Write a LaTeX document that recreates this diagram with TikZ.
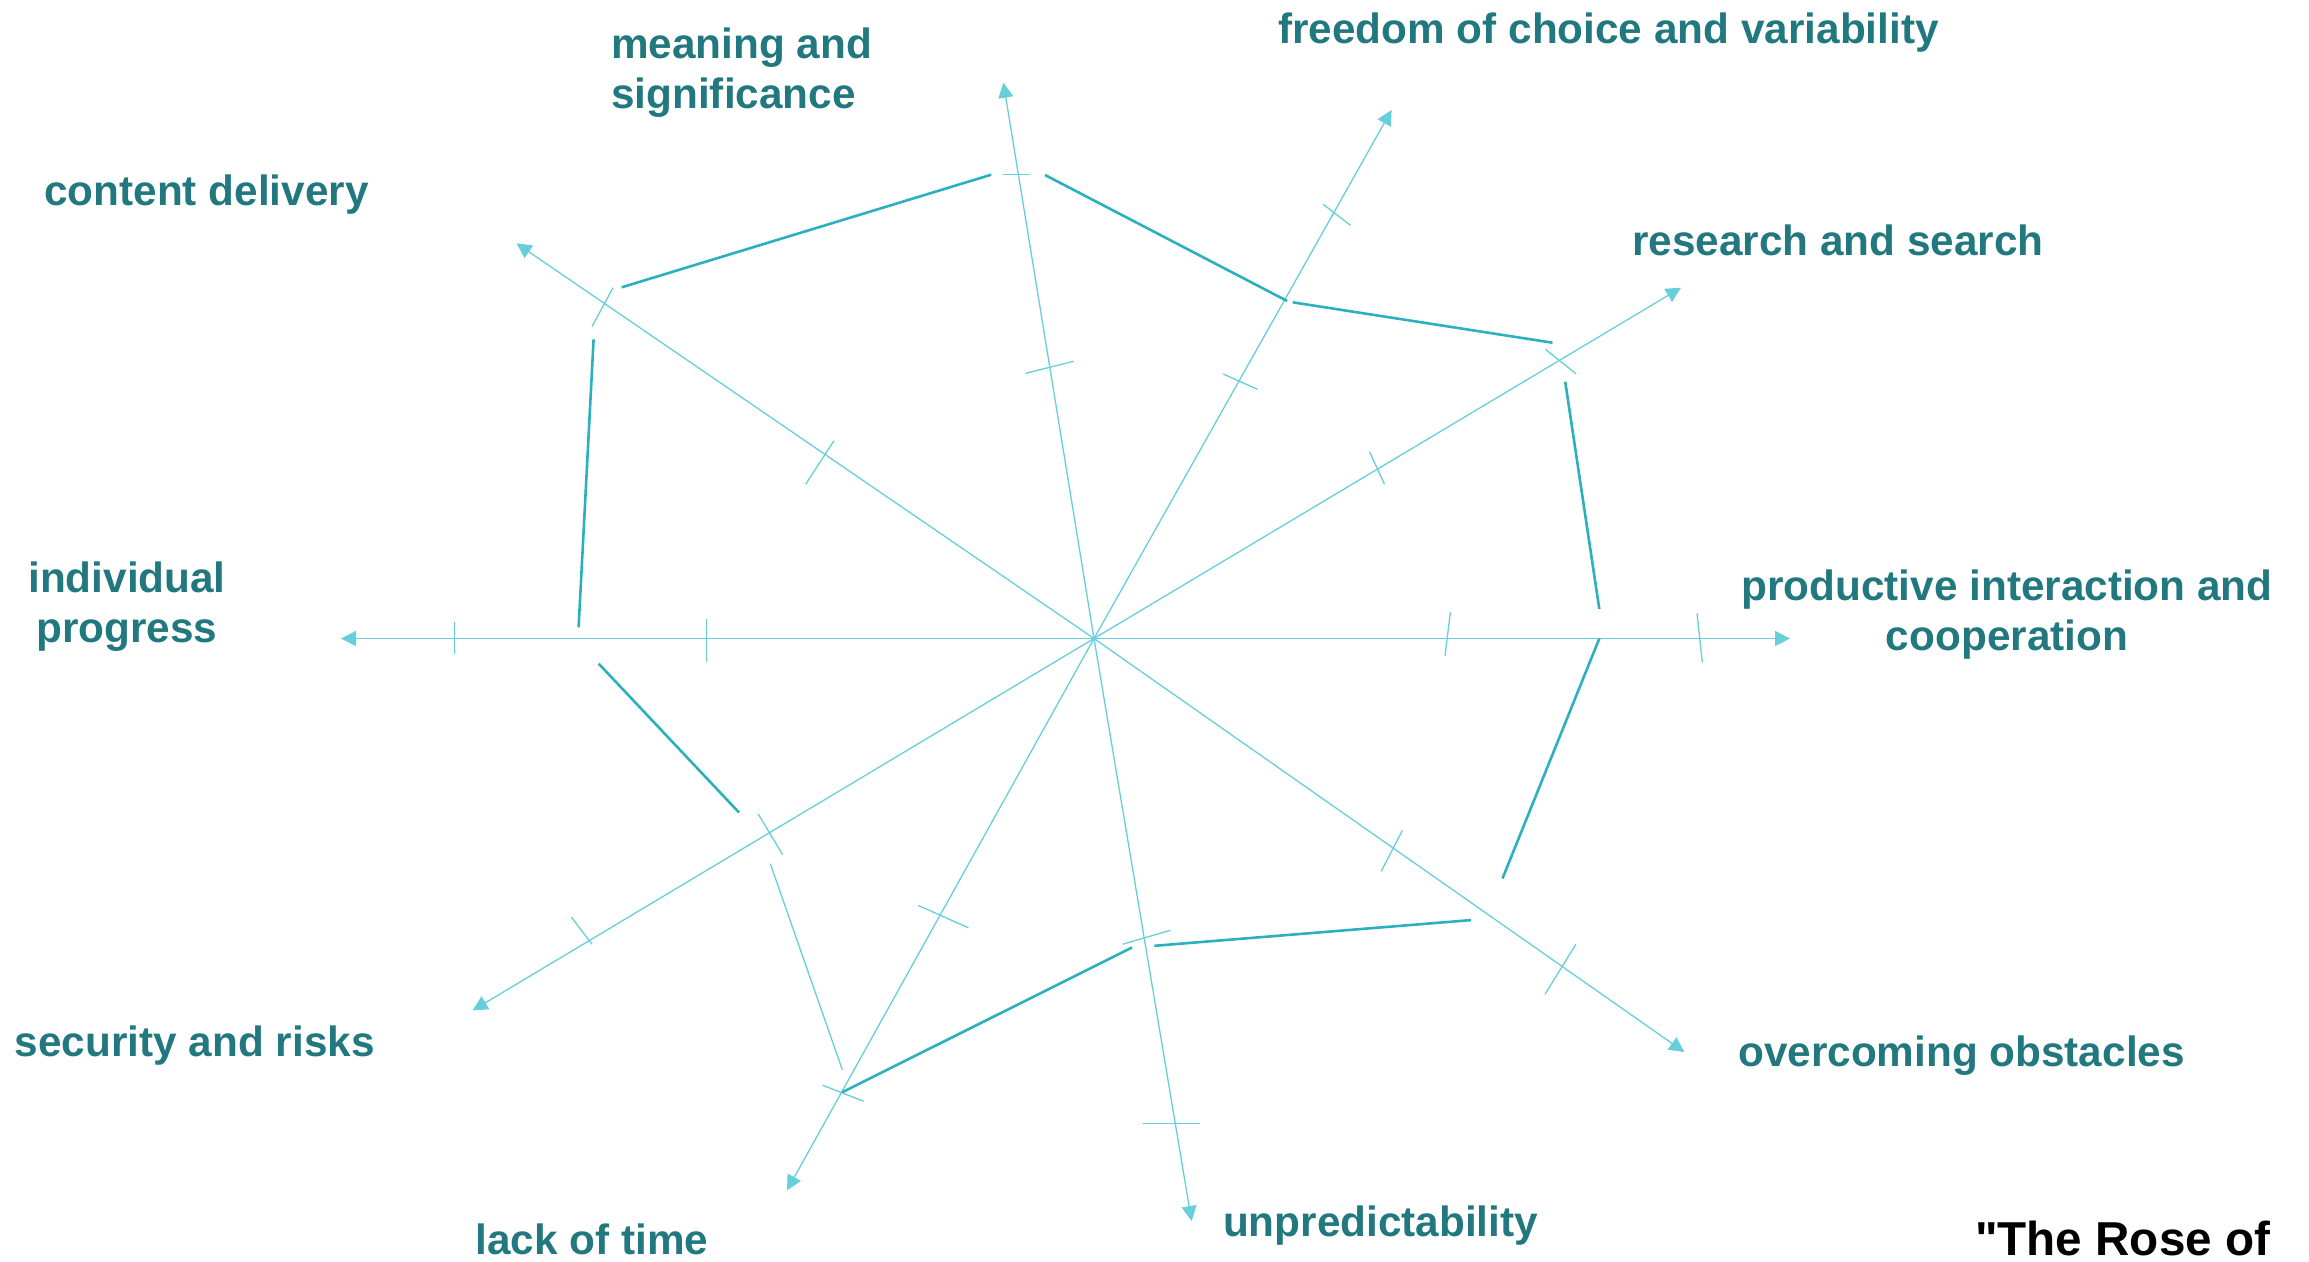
\documentclass[tikz,border=0pt]{standalone}
\usepackage{fontspec}
\setmainfont{Liberation Sans}
\newfontfamily\titlefont{Liberation Sans}[Ligatures=TeXOff]
\usetikzlibrary{arrows.meta}
\definecolor{axiscol}{HTML}{66CFD9}
\definecolor{polycol}{HTML}{2BB0BE}
\definecolor{labelcol}{HTML}{21787E}
\begin{document}
\begin{tikzpicture}[x=1pt,y=-1pt,
  axisline/.style={draw=axiscol,line width=1.3pt,-{Triangle[length=15pt,width=15pt]}},
  tickline/.style={draw=axiscol,line width=1.3pt},
  polyline/.style={draw=polycol,line width=2.6pt},
  lightpoly/.style={draw=axiscol,line width=1.3pt},
  lbl/.style={text=labelcol,font=\fontsize{42.3}{50}\selectfont\bfseries,inner sep=0pt},
]
\useasboundingbox (0,0) rectangle (2309,1261);
% centre and axis tips
\coordinate (O) at (1094,638.5);
\coordinate (tMean) at (1003.4,82.7);
\coordinate (tFree) at (1391.6,110);
\coordinate (tRes) at (1681,287.7);
\coordinate (tProd) at (1790,638.5);
\coordinate (tOver) at (1684.3,1052);
\coordinate (tUnpr) at (1191.6,1221);
\coordinate (tLack) at (787,1190.3);
\coordinate (tSec) at (472.6,1010.4);
\coordinate (tInd) at (341,638.5);
\coordinate (tCont) at (516.5,243.3);
\foreach \t in {tMean,tFree,tRes,tProd,tOver,tUnpr,tLack,tSec,tInd,tCont}
  \draw[axisline] (O) -- (\t);
% tick marks
\draw[tickline] (1002.7,174.3) -- (1030.3,174.3);
\draw[tickline] (1025.6,373.3) -- (1073.8,361.3);
\draw[tickline] (1323.2,204.3) -- (1350.5,225.3);
\draw[tickline] (1223.2,374) -- (1257.5,389.3);
\draw[tickline] (1545.4,349.3) -- (1575.9,373.7);
\draw[tickline] (1369.5,451.7) -- (1384.5,484.3);
\draw[tickline] (1445,655.7) -- (1450.3,612.3);
\draw[tickline] (1697,613.3) -- (1702.3,662.3);
\draw[tickline] (1381.2,871.4) -- (1402.3,830.5);
\draw[tickline] (1545.1,994.1) -- (1575.9,944.2);
\draw[tickline] (1122.7,944.2) -- (1170.5,930.3);
\draw[tickline] (1142.5,1123.7) -- (1199.9,1123.7);
\draw[tickline] (918.2,905.4) -- (968.4,927.8);
\draw[tickline] (822.5,1085.2) -- (863.6,1101.2);
\draw[tickline] (758.1,813.8) -- (782.6,854.7);
\draw[tickline] (571.4,917.2) -- (592,944.2);
\draw[tickline] (454.4,621.7) -- (454.4,654);
\draw[tickline] (706.7,618.7) -- (706.7,662.3);
\draw[tickline] (592,326.7) -- (613,287.7);
\draw[tickline] (805.6,484.3) -- (834,440.7);
% profile segments
\draw[polyline] (621.7,287.3) -- (991.2,174.7);
\draw[polyline] (1045,175) -- (1287.2,301);
\draw[polyline] (1292.7,302.3) -- (1552.5,342.7);
\draw[polyline] (1565.2,381.7) -- (1599.3,609);
\draw[polyline] (1599.3,638.5) -- (1502.5,878.4);
\draw[polyline] (1470.8,920.1) -- (1154.4,945.8);
\draw[polyline] (1132,947.5) -- (842.3,1092.2);
\draw[lightpoly] (842.3,1069.7) -- (770.3,863.7);
\draw[polyline] (739.1,812.6) -- (598.7,663.7);
\draw[polyline] (578.6,627.3) -- (593.6,339.3);
% labels
\node[lbl,anchor=north west,align=left] (lMean) at (611,28) {meaning and\\significance};
\node[lbl,anchor=base west] (lCont) at (44,205) {content delivery};
\node[lbl,anchor=base west] (lFree) at (1278,43.5) {freedom of choice and variability};
\node[lbl,anchor=base west] (lRes) at (1632,255) {research and search};
\node[lbl,anchor=north,align=center] (lProd) at (2007,570) {productive interaction and\\cooperation};
\node[lbl,anchor=north,align=center] (lInd) at (127,562) {individual\\progress};
\node[lbl,anchor=base west] (lSec) at (14.7,1056) {security and risks};
\node[lbl,anchor=base west] (lLack) at (475.5,1254) {lack of time};
\node[lbl,anchor=base west] (lUnpr) at (1222.8,1236) {unpredictability};
\node[lbl,anchor=base west] (lOver) at (1738,1066) {overcoming obstacles};
\node[text=black,font=\titlefont\fontsize{47.6}{57}\selectfont\bfseries,inner sep=0pt,anchor=base west] (lTitle) at (1975,1255) {"The Rose of};
\end{tikzpicture}
\end{document}
